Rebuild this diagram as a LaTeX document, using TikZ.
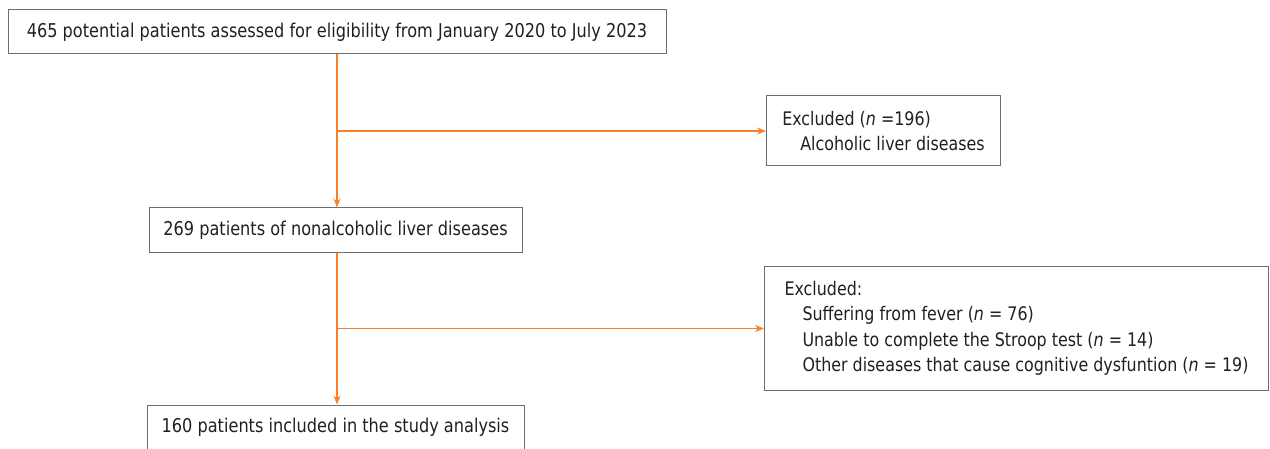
\documentclass[tikz,border=0pt]{standalone}
\usepackage{fontspec}
\setmainfont{DejaVu Sans}[FakeStretch=0.85]
\usetikzlibrary{arrows.meta}
\definecolor{flowor}{RGB}{248,128,40}
\definecolor{boxgray}{RGB}{110,110,110}
\definecolor{txtgray}{RGB}{35,31,32}
\begin{document}
\begin{tikzpicture}[x=1pt, y=-1pt]
  \tikzset{
    stepbox/.style={rectangle, draw=boxgray, line width=1pt, text=txtgray,
                    inner sep=0pt, align=center, font=\fontsize{19}{25}\selectfont},
    exbox/.style={stepbox, align=left, anchor=west, font=\fontsize{18.7}{25.5}\selectfont},
    flow/.style={draw=flowor, line width=1.2pt, -{Stealth[length=9pt,width=7pt]}},
  }
  \useasboundingbox (0,0) rectangle (1270,449);
  % Main stream
  \node[stepbox, minimum width=658pt, minimum height=44pt] (all) at (337,32)
    {465 potential patients assessed for eligibility from January 2020 to July 2023};
  \node[stepbox, minimum width=373pt, minimum height=45pt] (nafld) at (335.5,230.5)
    {269 patients of nonalcoholic liver diseases};
  \node[stepbox, minimum width=377pt, minimum height=45pt] (incl) at (335.5,427.5)
    {160 patients included in the study analysis};
  % Exclusions
  \node[exbox, minimum width=234pt, minimum height=70pt] (ex1) at (766,131)
    {Excluded (\textit{n} =196)\\\hspace*{18pt}Alcoholic liver diseases};
  \node[exbox, minimum width=504pt, minimum height=123pt] (ex2) at (764,328.5)
    {Excluded:\\
     \hspace*{18pt}Suffering from fever (\textit{n} = 76)\\
     \hspace*{18pt}Unable to complete the Stroop test (\textit{n} = 14)\\
     \hspace*{18pt}Other diseases that cause cognitive dysfuntion (\textit{n} = 19)};
  % Arrows
  \coordinate (j1) at (all.south |- ex1.west);
  \coordinate (j2) at (all.south |- ex2.west);
  \draw[flow] (all.south) -- (all.south |- nafld.north);
  \draw[flow] (j1) -- (ex1.west);
  \draw[flow] (all.south |- nafld.south) -- (all.south |- incl.north);
  \draw[flow] (j2) -- (ex2.west);
\end{tikzpicture}
\end{document}
